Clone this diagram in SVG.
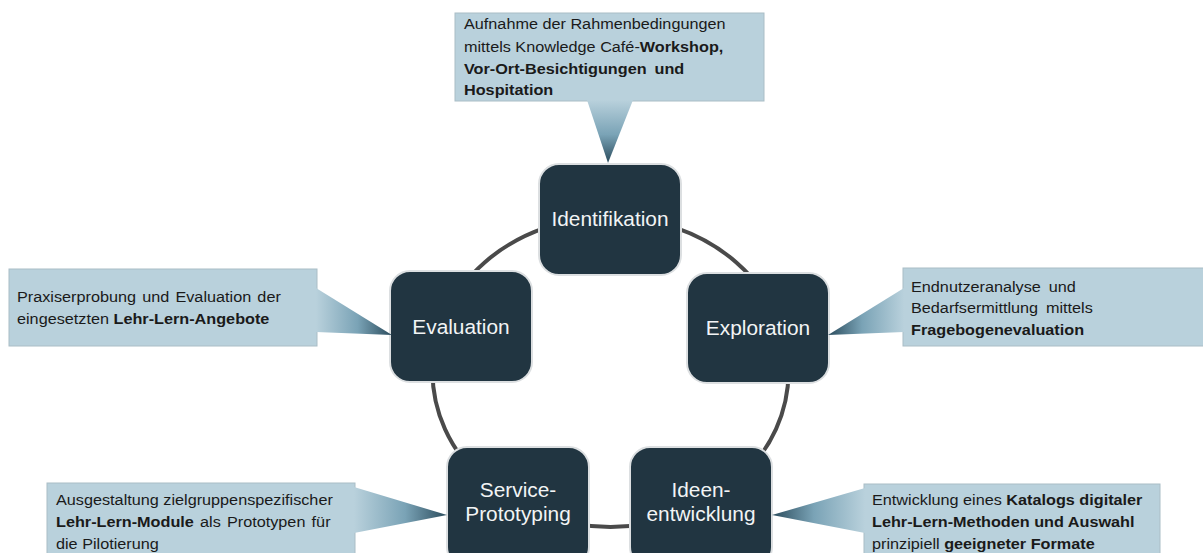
<svg xmlns="http://www.w3.org/2000/svg" width="1203" height="553" viewBox="0 0 1203 553">
  <defs>
    <style>
      .node rect { fill: #213541; stroke: #dcdfe1; stroke-width: 2; }
      .node text { font-family: "Liberation Sans", Arial, sans-serif; font-size: 19.5px; fill: #f2f4f5; text-anchor: middle; }
      .box { fill: #b9d1dc; stroke: #aabdc6; stroke-width: 1; }
      .note { font-family: "Liberation Sans", Arial, sans-serif; font-size: 14.5px; fill: #1a1a1a; }
      .b { font-weight: bold; }
      .cycle { fill: none; stroke: #4a4a4a; stroke-width: 4; }
    </style>
    <linearGradient id="ptrDown" x1="0" y1="0" x2="0" y2="1">
      <stop offset="0" stop-color="#b9d1dc"/>
      <stop offset="0.55" stop-color="#7aa3b6"/>
      <stop offset="1" stop-color="#2b4c5d"/>
    </linearGradient>
    <linearGradient id="ptrRight" x1="0" y1="0" x2="1" y2="0">
      <stop offset="0" stop-color="#b9d1dc"/>
      <stop offset="0.55" stop-color="#7aa3b6"/>
      <stop offset="1" stop-color="#2b4c5d"/>
    </linearGradient>
    <linearGradient id="ptrLeft" x1="1" y1="0" x2="0" y2="0">
      <stop offset="0" stop-color="#b9d1dc"/>
      <stop offset="0.55" stop-color="#7aa3b6"/>
      <stop offset="1" stop-color="#2b4c5d"/>
    </linearGradient>
  </defs>

  <rect width="1203" height="553" fill="#ffffff"/>

  <!-- cycle ring linking the five phases -->
  <g id="connectors">
    <ellipse class="cycle" cx="610.5" cy="372" rx="178" ry="155"/>
  </g>

  <!-- phase nodes -->
  <g id="node-identifikation" class="node">
    <rect x="539" y="164" width="142" height="111" rx="20"/>
    <g transform="translate(610,0) scale(1.07,1)"><text x="0" y="226">Identifikation</text></g>
  </g>
  <g id="node-exploration" class="node">
    <rect x="687" y="273" width="142" height="110" rx="20"/>
    <g transform="translate(758,0) scale(1.07,1)"><text x="0" y="335">Exploration</text></g>
  </g>
  <g id="node-evaluation" class="node">
    <rect x="390" y="271" width="142" height="111" rx="20"/>
    <g transform="translate(461,0) scale(1.07,1)"><text x="0" y="334">Evaluation</text></g>
  </g>
  <g id="node-service-prototyping" class="node">
    <rect x="447" y="447" width="142" height="120" rx="20"/>
    <g transform="translate(518,0) scale(1.07,1)">
      <text x="0" y="497">Service-</text>
      <text x="0" y="521">Prototyping</text>
    </g>
  </g>
  <g id="node-ideenentwicklung" class="node">
    <rect x="630" y="447" width="142" height="120" rx="20"/>
    <g transform="translate(701,0) scale(1.07,1)">
      <text x="0" y="497">Ideen-</text>
      <text x="0" y="521">entwicklung</text>
    </g>
  </g>

  <!-- callouts -->
  <g id="note-identifikation">
    <rect class="box" x="455" y="13" width="309" height="88"/>
    <polygon points="587,100 633,100 608,163" fill="url(#ptrDown)"/>
    <g class="note" transform="translate(464,0) scale(1.12,1)">
      <text x="0" y="29">Aufnahme der Rahmenbedingungen</text>
      <text x="0" y="52">mittels Knowledge Café-<tspan class="b">Workshop,</tspan></text>
      <text x="0" y="74" class="b" word-spacing="3">Vor-Ort-Besichtigungen und</text>
      <text x="0" y="95" class="b">Hospitation</text>
    </g>
  </g>

  <g id="note-evaluation">
    <rect class="box" x="9" y="269" width="308" height="77"/>
    <polygon points="316,288 316,332 392,335" fill="url(#ptrRight)"/>
    <g class="note" transform="translate(17,0) scale(1.12,1)">
      <text x="0" y="302" word-spacing="1.5">Praxiserprobung und Evaluation der</text>
      <text x="0" y="324">eingesetzten <tspan class="b">Lehr-Lern-Angebote</tspan></text>
    </g>
  </g>

  <g id="note-exploration">
    <rect class="box" x="903" y="268" width="301" height="78"/>
    <polygon points="904,288 904,332 828,335" fill="url(#ptrLeft)"/>
    <g class="note" transform="translate(911,0) scale(1.12,1)">
      <text x="0" y="292" word-spacing="3">Endnutzeranalyse und</text>
      <text x="0" y="313" word-spacing="3">Bedarfsermittlung mittels</text>
      <text x="0" y="335" class="b">Fragebogenevaluation</text>
    </g>
  </g>

  <g id="note-service-prototyping">
    <rect class="box" x="47" y="483" width="308" height="80"/>
    <polygon points="354,487 354,533 447,515" fill="url(#ptrRight)"/>
    <g class="note" transform="translate(56,0) scale(1.12,1)">
      <text x="0" y="505">Ausgestaltung zielgruppenspezifischer</text>
      <text x="0" y="527" word-spacing="1.5"><tspan class="b">Lehr-Lern-Module</tspan> als Prototypen für</text>
      <text x="0" y="549">die Pilotierung</text>
    </g>
  </g>

  <g id="note-ideenentwicklung">
    <rect class="box" x="864" y="484" width="296" height="80"/>
    <polygon points="865,488 865,533 772,515" fill="url(#ptrLeft)"/>
    <g class="note" transform="translate(872,0) scale(1.12,1)">
      <text x="0" y="505">Entwicklung eines <tspan class="b">Katalogs digitaler</tspan></text>
      <text x="0" y="527" class="b">Lehr-Lern-Methoden und Auswahl</text>
      <text x="0" y="549">prinzipiell <tspan class="b">geeigneter Formate</tspan></text>
    </g>
  </g>
</svg>
